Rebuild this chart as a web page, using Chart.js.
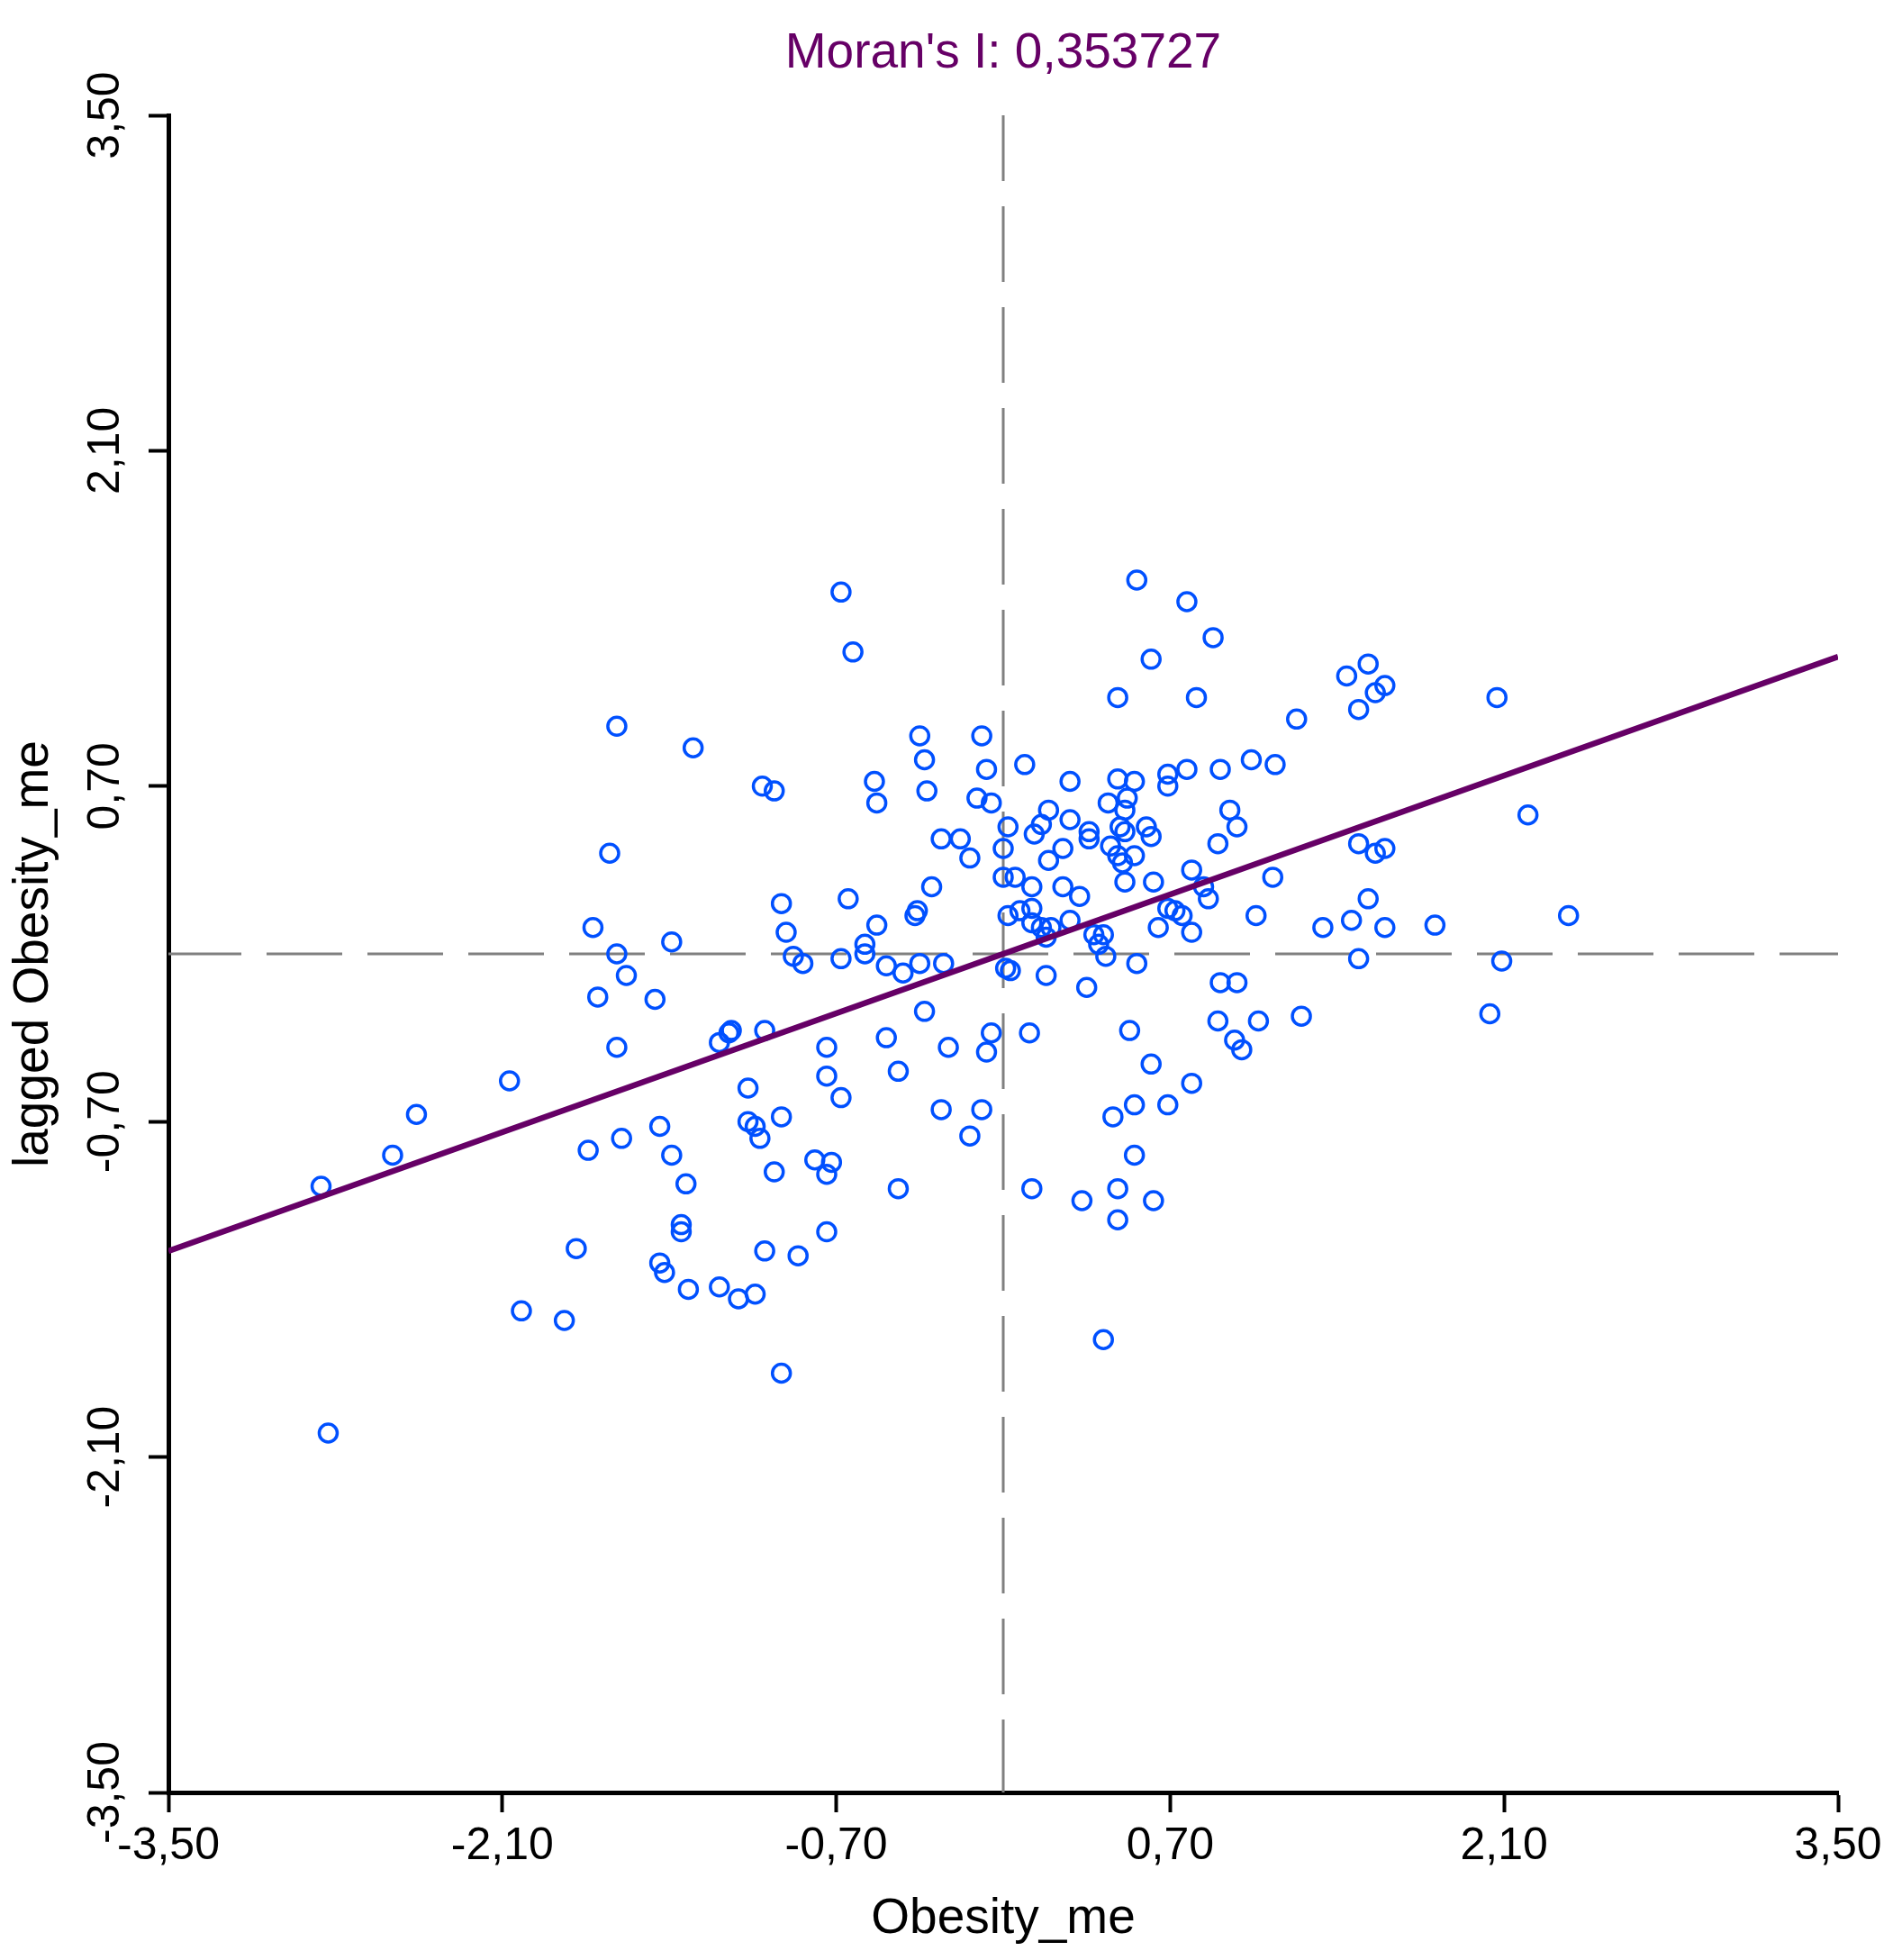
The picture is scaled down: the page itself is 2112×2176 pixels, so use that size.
<!DOCTYPE html>
<html>
<head>
<meta charset="utf-8">
<script src="https://cdn.jsdelivr.net/npm/chart.js@4.4.1/dist/chart.umd.min.js"></script>
<style>
  html, body { margin: 0; padding: 0; background: #ffffff; }
  #wrap { width: 2112px; height: 2176px; position: relative; }
</style>
</head>
<body>
<div id="wrap"><canvas id="grafico"></canvas></div>
<script>
const obesidadX = [
  -1.62, -1.30, -1.65, -1.72, -1.62, -1.39, -1.58,
  0.56, -0.68, -0.63, 0.62, 0.48, -0.35, -0.09, -0.33, -0.07, 0.09,
  -1.01, -0.96, -0.54, -0.53, -0.32, 0.28, 0.48, 0.55, 0.69, 0.69,
  -0.11, -0.05, 0.44, 0.52, 0.51, 0.19, 0.28, 0.02, 0.16, 0.13,
  0.36, 0.36, 0.60, 0.62, 0.51, 0.49, 0.45, 0.48, 0.55, 0.50,
  -0.26, -0.18, -0.14, 0.00, 0.25, 0.19, 0.00, 0.05, 0.12, 0.25,
  0.32, 0.51, 0.63, -0.30, -0.93, -0.65, -0.36, -0.37, -0.91, -0.53,
  -0.58, -0.58, -0.88, -0.84, -0.68, -0.49, -0.42, -0.35, -0.25,
  0.02, 0.07, 0.12, 0.12, 0.16, 0.20, 0.18, 0.28, 0.38, 0.42, 0.40,
  0.43, 0.65, 0.01, 0.03, 0.18, 0.56,
  0.77, 0.88, 0.81, 1.23, 1.44, 1.53, 1.60, 1.56, 1.49, 2.07,
  0.77, 0.91, 1.04, 1.14, 0.95, 0.98, 0.90, 0.79, 1.13, 0.84, 0.86,
  0.72, 0.75, 0.79, 1.06, 1.49, 1.56, 1.60, 1.53, 1.46, 1.34, 1.60,
  1.81, 2.20, 2.37, 1.49, 2.09, 0.91, 0.98, 0.69,
  -1.70, -1.46, -1.62, -1.19, -1.14, -1.15, -1.00, -2.07, -2.46, -2.56,
  -2.86, -1.74, -1.60, -1.44, -1.39, -1.33, -1.35, -1.35, -1.79, -1.44,
  -1.42, -1.32, -1.19, -1.11, -1.04, -2.02, -1.84, -2.83,
  0.35, -0.33, -0.74, -0.49, -0.23, -0.05, -0.07, 0.11, 0.53, 0.62,
  -0.44, -0.74, -0.68, -1.07, -0.26, -0.09, -0.14, 0.55, 0.46, 0.69,
  0.55, 0.48, 0.33, 0.63, 0.48, 0.12, -0.44, -1.07, -1.04, -1.02,
  -0.93, -0.96, -0.79, -0.72, -0.74, -0.74, -1.00, -0.86, 0.42, -0.93,
  0.90, 1.07, 1.25, 2.04, 0.97, 1.00, 0.79
];
const rezagoY = [
  0.95, 0.86, 0.42, 0.11, 0.00, 0.05, -0.09,
  1.56, 1.51, 1.26, 1.23, 1.07, 0.91, 0.91, 0.81, 0.77, 0.79,
  0.70, 0.68, 0.72, 0.63, 0.68, 0.72, 0.73, 0.72, 0.75, 0.70,
  0.65, 0.63, 0.63, 0.65, 0.60, 0.60, 0.56, 0.53, 0.54, 0.50,
  0.51, 0.48, 0.53, 0.49, 0.51, 0.53, 0.45, 0.41, 0.41, 0.38,
  0.48, 0.48, 0.40, 0.44, 0.44, 0.39, 0.32, 0.32, 0.28, 0.28,
  0.24, 0.30, 0.30, 0.28, 0.21, 0.23, 0.18, 0.16, 0.09, 0.12,
  0.04, 0.00, -0.01, -0.04, -0.02, -0.05, -0.08, -0.04, -0.04,
  0.16, 0.18, 0.19, 0.13, 0.11, 0.11, 0.07, 0.14, 0.08, 0.08, 0.04,
  -0.01, 0.11, -0.06, -0.07, -0.09, -0.04,
  1.47, 1.32, 1.07, 0.98, 1.16, 1.21, 1.12, 1.09, 1.02, 1.07,
  0.77, 0.77, 0.81, 0.79, 0.60, 0.53, 0.46, 0.35, 0.32, 0.28, 0.23,
  0.18, 0.16, 0.09, 0.16, 0.46, 0.42, 0.44, 0.23, 0.14, 0.11, 0.11,
  0.12, 0.58, 0.16, -0.02, -0.03, -0.12, -0.12, 0.19,
  -0.18, -0.19, -0.39, -0.37, -0.32, -0.33, -0.32, -0.53, -0.67, -0.84,
  -0.97, -0.82, -0.77, -0.72, -0.84, -0.96, -1.13, -1.16, -1.23, -1.29,
  -1.33, -1.40, -1.39, -1.44, -1.42, -1.49, -1.53, -2.00,
  -0.14, -0.24, -0.39, -0.35, -0.39, -0.33, -0.41, -0.33, -0.32, -0.46,
  -0.49, -0.51, -0.60, -0.56, -0.65, -0.65, -0.76, -0.63, -0.68, -0.63,
  -0.84, -0.98, -1.03, -1.03, -1.11, -0.98, -0.98, -0.70, -0.72, -0.77,
  -0.68, -0.91, -0.86, -0.87, -0.92, -1.16, -1.24, -1.26, -1.61, -1.75,
  -0.28, -0.28, -0.26, -0.25, -0.36, -0.40, -0.54
];

const rectaX = [-3.5, 3.5];
const rectaY = [-1.24, 1.24];

// Ejes de referencia en cero
const ceroVertX = [0, 0];
const ceroVertY = [3.5, -3.5];
const ceroHorX = [-3.5, 3.5];
const ceroHorY = [0, 0];

const marcas = [-3.5, -2.1, -0.7, 0.7, 2.1, 3.5];
const tituloGrafico = "Moran's I: 0,353727";

const FUENTE = 'Liberation Sans';

function aPuntos(xs, ys) {
  return xs.map((x, i) => ({ x: x, y: ys[i] }));
}

function formatoComa(valor) {
  return valor.toFixed(2).replace('.', ',');
}

const ctx = document.getElementById('grafico').getContext('2d');

new Chart(ctx, {
  data: {
    datasets: [
      {
        type: 'line',
        data: aPuntos(rectaX, rectaY),
        borderColor: '#660066',
        borderWidth: 6.5,
        pointRadius: 0,
        fill: false,
        order: 0
      },
      {
        type: 'scatter',
        data: aPuntos(obesidadX, rezagoY),
        borderColor: '#0050ff',
        backgroundColor: 'rgba(0,0,0,0)',
        borderWidth: 3.5,
        pointRadius: 10,
        pointHoverRadius: 10,
        order: 1
      },
      {
        type: 'line',
        data: aPuntos(ceroVertX, ceroVertY),
        borderColor: '#808080',
        borderWidth: 3,
        borderDash: [84, 28],
        borderDashOffset: 11,
        pointRadius: 0,
        fill: false,
        order: 2
      },
      {
        type: 'line',
        data: aPuntos(ceroHorX, ceroHorY),
        borderColor: '#808080',
        borderWidth: 3,
        borderDash: [84, 28],
        borderDashOffset: 3,
        pointRadius: 0,
        fill: false,
        order: 2
      }
    ]
  },
  options: {
    responsive: true,
    maintainAspectRatio: false,
    devicePixelRatio: 1,
    animation: false,
    layout: {
      padding: { top: 0, right: 71, bottom: 0, left: 0 }
    },
    plugins: {
      legend: { display: false },
      tooltip: { enabled: false },
      title: {
        display: true,
        fullSize: false,
        text: tituloGrafico,
        color: '#660066',
        font: { family: FUENTE, size: 55, weight: 'normal' },
        padding: { top: 27, bottom: 35 }
      }
    },
    scales: {
      x: {
        type: 'linear',
        position: 'bottom',
        min: -3.5,
        max: 3.5,
        afterBuildTicks: function(scale) {
          scale.ticks = marcas.map(v => ({ value: v }));
        },
        afterFit: function(scale) {
          scale.height = 186;
        },
        ticks: {
          color: '#000000',
          font: { family: FUENTE, size: 50 },
          padding: 8,
          maxRotation: 0,
          minRotation: 0,
          callback: function(valor) { return formatoComa(valor); }
        },
        grid: {
          display: true,
          drawOnChartArea: false,
          drawTicks: true,
          tickLength: 22,
          tickWidth: 4,
          tickColor: '#000000'
        },
        border: { display: true, color: '#000000', width: 5 },
        title: {
          display: true,
          text: 'Obesity_me',
          color: '#000000',
          font: { family: FUENTE, size: 55 },
          padding: { top: 0, bottom: 12 }
        }
      },
      y: {
        type: 'linear',
        position: 'left',
        min: -3.5,
        max: 3.5,
        afterBuildTicks: function(scale) {
          scale.ticks = marcas.map(v => ({ value: v }));
        },
        afterFit: function(scale) {
          scale.width = 187;
        },
        ticks: {
          color: '#000000',
          font: { family: FUENTE, size: 50 },
          padding: -10,
          minRotation: 90,
          maxRotation: 90,
          crossAlign: 'center',
          callback: function(valor) { return formatoComa(valor); }
        },
        grid: {
          display: true,
          drawOnChartArea: false,
          drawTicks: true,
          tickLength: 22,
          tickWidth: 4,
          tickColor: '#000000'
        },
        border: { display: true, color: '#000000', width: 5 },
        title: {
          display: true,
          text: 'lagged Obesity_me',
          color: '#000000',
          font: { family: FUENTE, size: 55 },
          padding: { top: 5, bottom: 0 }
        }
      }
    }
  }
});
</script>
</body>
</html>
